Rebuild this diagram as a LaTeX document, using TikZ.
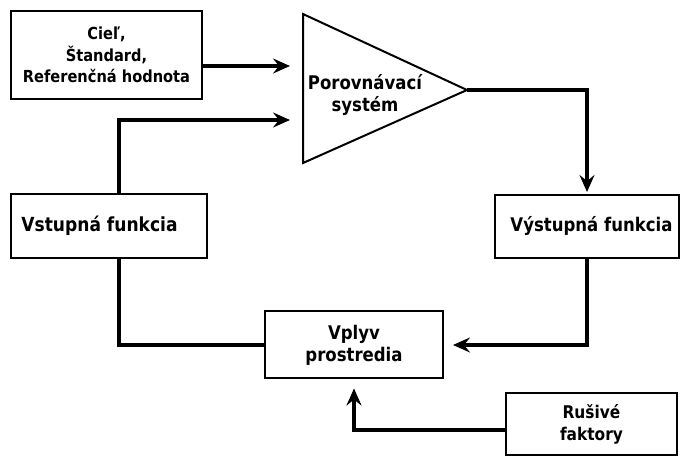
\documentclass[tikz,border=0pt]{standalone}
\usepackage{fontspec}
\setmainfont{DejaVu Sans}[FakeStretch=0.88]
\usetikzlibrary{arrows.meta,positioning}

\tikzset{
  box/.style={draw, line width=2pt, align=center, inner sep=2pt,
    font=\bfseries\fontsize{18.8}{22}\selectfont},
  flow/.style={line width=3.2pt, -{Stealth[length=17pt,width=15pt,inset=6pt]}},
  wire/.style={line width=3.2pt},
}

\begin{document}
\begin{tikzpicture}[x=1pt,y=-1pt]
    \useasboundingbox (0,0) rectangle (681,457);
    \node[box, minimum width=191pt, minimum height=88pt,
      font=\bfseries\fontsize{16.6}{21.5}\selectfont] (ciel) at (106.5,55) {Cieľ,\\Štandard,\\Referenčná hodnota};
    \node[box, minimum width=196pt, minimum height=64pt,
      font=\bfseries\fontsize{19.4}{22}\selectfont] (vstup) at (109,226) {Vstupná funkcia\hspace{19pt}};
    \node[box, minimum width=184pt, minimum height=63pt] (vystup) at (587,226.5) {\hspace{9pt}Výstupná funkcia};
    \node[box, minimum width=178pt, minimum height=67pt] (vplyv) at (354,345) {Vplyv\\prostredia};
    \node[box, minimum width=171pt, minimum height=62pt,
      font=\bfseries\fontsize{17.5}{22}\selectfont] (rusive) at (591.5,424) {Rušivé\\faktory};
    % porovnavaci system
    \coordinate (cmpTop) at (303,14);
    \coordinate (cmpBot) at (303,163);
    \coordinate (cmpTip) at (467,90);
    \draw[line width=2pt, line join=miter] (cmpTop) -- (cmpTip) -- (cmpBot) -- cycle;
    \node[box, draw=none] (cmp) at (365,95) {Porovnávací\\systém};
    \coordinate (inA) at (290,66);
    \coordinate (inB) at (290,120);
    \draw[flow] ([yshift=-11pt]ciel.east) -- (inA);
    \draw[flow] ([xshift=10pt]vstup.north) |- (inB);
    \draw[flow] (cmpTip) -| ([yshift=2pt]vystup.north);
    \draw[flow] (vystup.south) |- ([xshift=9pt]vplyv.east);
    \draw[wire] ([xshift=10pt]vstup.south) |- (vplyv.west);
    \draw[flow] (rusive.west |- 0,430) -| ([yshift=-9pt]vplyv.south);
\end{tikzpicture}
\end{document}
